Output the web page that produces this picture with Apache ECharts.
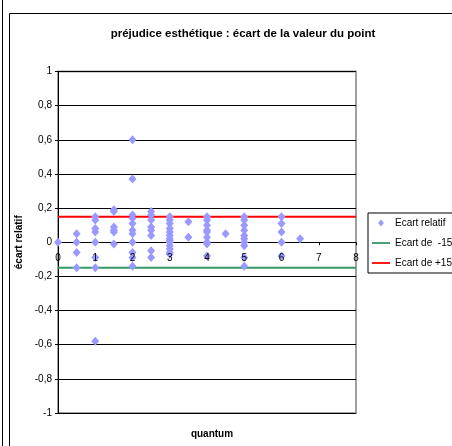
<!DOCTYPE html>
<html>
<head>
<meta charset="utf-8">
<script src="https://cdn.jsdelivr.net/npm/echarts@6/dist/echarts.min.js"></script>
<style>
html,body{margin:0;padding:0;background:#fff;}
#c{width:452px;height:446px;}
</style>
</head>
<body>
<div id="c"></div>
<script>
// ---- data ----
const chartTitle = 'préjudice esthétique : écart de la valeur du point';
const xName = 'quantum';
const yName = 'écart relatif';
const seriesNames = ['Ecart relatif', 'Ecart de  -15%', 'Ecart de +15%'];
const quantumLevels = [0, 0.5, 1, 1.5, 2, 2.5, 3, 3.5, 4, 4.5, 5, 6, 6.5];
const ecartByLevel = [
  [0],
  [0.05, 0, -0.06, -0.15],
  [0.15, 0.13, 0.08, 0.06, 0, -0.09, -0.15, -0.58],
  [0.19, 0.18, 0.09, 0.07, 0.06, -0.01],
  [0.6, 0.37, 0.16, 0.14, 0.11, 0.07, 0.05, 0, -0.06, -0.09, -0.14],
  [0.18, 0.16, 0.13, 0.09, 0.07, 0.04, -0.05, -0.09],
  [0.15, 0.13, 0.11, 0.08, 0.06, 0.04, 0.02, 0.01, 0, -0.02, -0.04, -0.06, -0.07],
  [0.12, 0.03],
  [0.15, 0.13, 0.1, 0.07, 0.06, 0.03, 0, -0.01, -0.08],
  [0.05],
  [0.15, 0.13, 0.1, 0.07, 0.04, 0.02, 0, -0.02, -0.09, -0.14],
  [0.15, 0.11, 0.06, 0, -0.08],
  [0.02]
];
const lowerLimitX = [0, 8];
const lowerLimitY = [-0.15, -0.15];
const upperLimitX = [0, 8];
const upperLimitY = [0.15, 0.15];
const xTicks = [0, 1, 2, 3, 4, 5, 6, 7, 8];
const yTicks = [-1, -0.8, -0.6, -0.4, -0.2, 0, 0.2, 0.4, 0.6, 0.8, 1];

// ---- build ----
const points = [];
quantumLevels.forEach((q, i) => ecartByLevel[i].forEach(v => points.push([q, v])));
const lower = lowerLimitX.map((x, i) => [x, lowerLimitY[i]]);
const upper = upperLimitX.map((x, i) => [x, upperLimitY[i]]);

const FONT = 'Liberation Sans';
const fmt = v => { const r = Math.round(v * 10) / 10; return String(r === 0 ? 0 : r).replace('.', ','); };
const LINE_ICON = 'path://M0,0 L20,0 L20,2 L0,2 Z';
const DIAMOND_ICON = 'path://M5,0 L10,6 L5,12 L0,6 Z';

const GRID_TOP = 71.5, GRID_BOTTOM = 33, H = 446;
const gridH = H - GRID_TOP - GRID_BOTTOM;
const yMin = yTicks[0], yMax = yTicks[yTicks.length - 1];
// move the x axis (line, ticks, labels) up to the y = 0 level, as in the source
const xAxisOffset = -gridH * (0 - yMin) / (yMax - yMin);
const xMin = xTicks[0], xMax = xTicks[xTicks.length - 1];

const chart = echarts.init(document.getElementById('c'), null, {renderer: 'canvas'});
chart.setOption({
  animation: false,
  backgroundColor: '#ffffff',
  textStyle: {fontFamily: FONT},
  title: [{
    text: chartTitle,
    left: 238, top: 23, textAlign: 'center',
    textStyle: {fontFamily: FONT, fontSize: 11.5, fontWeight: 'bold', color: '#000'}
  }, {
    text: xName,
    left: 207, top: 424, textAlign: 'center',
    textStyle: {fontFamily: FONT, fontSize: 10, fontWeight: 'bold', color: '#000'}
  }],
  graphic: [
    {type: 'line', shape: {x1: 2.5, y1: 0, x2: 2.5, y2: 446}, style: {stroke: '#000', lineWidth: 1}, silent: true},
    {type: 'rect', shape: {x: 9.5, y: 13.5, width: 600, height: 600}, style: {fill: 'none', stroke: '#000', lineWidth: 1}, silent: true, z: -1}
  ],
  grid: {
    left: 58, right: 96, top: GRID_TOP, bottom: GRID_BOTTOM,
    show: true, borderColor: '#a0a0a0', borderWidth: 2, backgroundColor: 'transparent'
  },
  legend: {
    orient: 'vertical', left: 368, top: 213,
    borderColor: '#000', borderWidth: 1, backgroundColor: '#fff',
    padding: [5, 6, 5, 4],
    itemWidth: 18, itemHeight: 7, itemGap: 10,
    textStyle: {fontFamily: FONT, fontSize: 10, color: '#000'},
    data: [
      {name: seriesNames[0], icon: DIAMOND_ICON, itemStyle: {color: '#9999ff'}},
      {name: seriesNames[1], icon: LINE_ICON, itemStyle: {color: '#339966'}},
      {name: seriesNames[2], icon: LINE_ICON, itemStyle: {color: '#ff0000'}}
    ]
  },
  xAxis: [{
    type: 'value', min: xMin, max: xMax, interval: 1,
    position: 'bottom', offset: xAxisOffset,
    axisLine: {show: true, onZero: false, lineStyle: {color: '#000', width: 1}},
    axisTick: {show: true, length: 3, inside: false, lineStyle: {color: '#000'}},
    axisLabel: {show: false},
    splitLine: {show: false}
  }, {
    // labels only, drawn above the markers as in the source
    type: 'value', min: xMin, max: xMax, interval: 1,
    position: 'bottom', offset: xAxisOffset, z: 10,
    axisLine: {show: false, onZero: false},
    axisTick: {show: false},
    axisLabel: {margin: 11, fontFamily: FONT, fontSize: 10, color: '#000', formatter: v => fmt(v)},
    splitLine: {show: false}
  }],
  yAxis: {
    type: 'value', min: yMin, max: yMax, interval: 0.2,
    axisLine: {show: true, onZero: false, lineStyle: {color: '#000', width: 1}},
    axisTick: {show: true, length: 3, lineStyle: {color: '#000'}},
    axisLabel: {margin: 6, fontFamily: FONT, fontSize: 10, color: '#000', formatter: v => fmt(v)},
    splitLine: {show: true, lineStyle: {color: '#000', width: 1}},
    name: yName, nameLocation: 'middle', nameGap: 33,
    nameTextStyle: {fontFamily: FONT, fontSize: 10, fontWeight: 'bold', color: '#000'}
  },
  series: [
    {
      name: seriesNames[0], type: 'scatter', data: points,
      symbol: 'diamond', symbolSize: [8, 9],
      itemStyle: {color: '#9999ff', opacity: 1}, z: 5
    },
    {
      name: seriesNames[1], type: 'line', data: lower, symbol: 'none',
      lineStyle: {color: '#339966', width: 2}, itemStyle: {color: '#339966'}, z: 3
    },
    {
      name: seriesNames[2], type: 'line', data: upper, symbol: 'none',
      lineStyle: {color: '#ff0000', width: 2}, itemStyle: {color: '#ff0000'}, z: 3
    }
  ]
});
</script>
</body>
</html>
